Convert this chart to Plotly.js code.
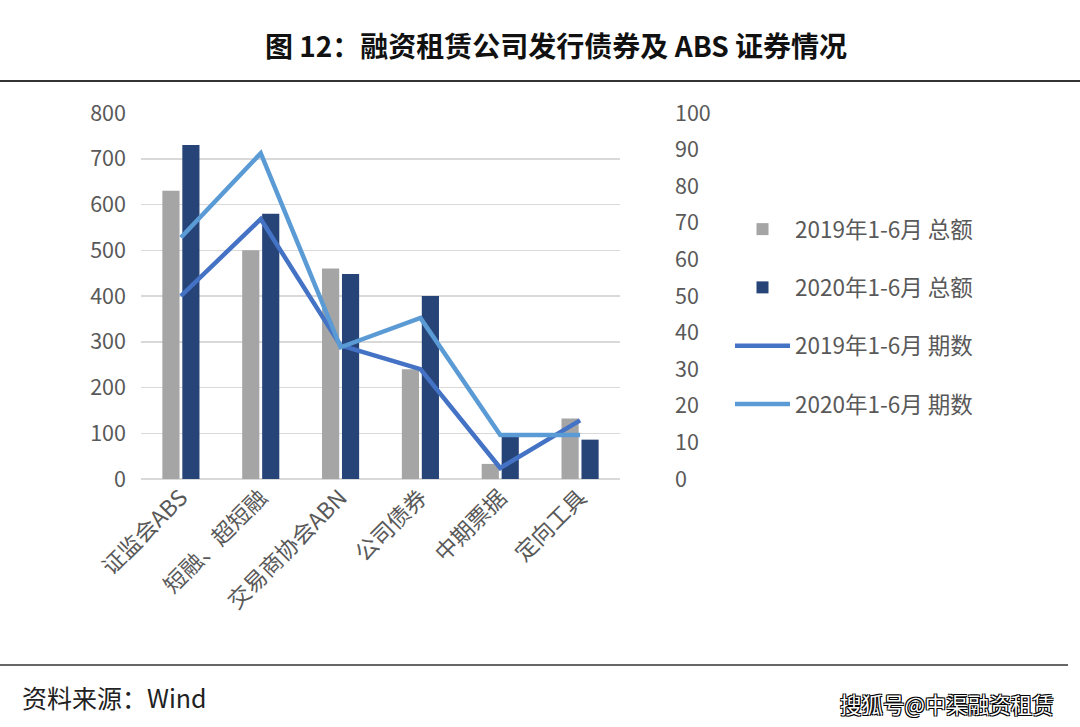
<!DOCTYPE html>
<html>
<head>
<meta charset="utf-8">
<script src="https://cdn.plot.ly/plotly-3.0.1.min.js"></script>
<style>html,body{margin:0;padding:0;background:#fff;}#chart{width:1080px;height:727px;}</style>
</head>
<body>
<div id="chart"></div>
<script>
const categories = ["证监会ABS", "短融、超短融", "交易商协会ABN", "公司债券", "中期票据", "定向工具"];
const amount2019 = [630, 500, 460, 240, 33, 132];
const amount2020 = [730, 580, 448, 400, 100, 86];
const count2019 = [50, 71, 36.5, 30, 3, 16];
const count2020 = [66, 89, 36, 44, 12, 12];
const seriesNames = ["2019年1-6月 总额", "2020年1-6月 总额", "2019年1-6月 期数", "2020年1-6月 期数"];
const leftTicks = [0, 100, 200, 300, 400, 500, 600, 700, 800];
const rightTicks = [0, 10, 20, 30, 40, 50, 60, 70, 80, 90, 100];

const FONT = "Noto Sans CJK SC, Noto Sans, sans-serif";
const GREY = "#595959";

const traces = [
  {type: "bar", x: categories, y: amount2019, name: seriesNames[0], marker: {color: "#A5A5A5"}, legendgroup: "a", hoverinfo: "skip"},
  {type: "bar", x: categories, y: amount2020, name: seriesNames[1], marker: {color: "#264478"}, legendgroup: "b", hoverinfo: "skip"},
  {type: "scatter", mode: "lines", x: categories, y: count2019, name: seriesNames[2], yaxis: "y2", line: {color: "#4472C4", width: 4.5}, legendgroup: "c"},
  {type: "scatter", mode: "lines", x: categories, y: count2020, name: seriesNames[3], yaxis: "y2", line: {color: "#5B9BD5", width: 4.5}, legendgroup: "d"}
];

const layout = {
  width: 1080, height: 727,
  margin: {l: 141, r: 460, t: 113, b: 248},
  paper_bgcolor: "#fff", plot_bgcolor: "#fff",
  font: {family: FONT, color: GREY, size: 20},
  title: {text: "<b>图 12：融资租赁公司发行债券及 ABS 证券情况</b>", x: 556/1080, xref: "container", y: 1 - 47/727, yref: "container", yanchor: "middle", font: {size: 28, color: "#111", family: FONT}},
  barmode: "group", bargap: 0.5, bargroupgap: 0.14,
  showlegend: true,
  legend: {xref: "container", yref: "container", x: 730/1080, y: 1 - 208/727, xanchor: "left", yanchor: "top",
           font: {size: 22.5, color: GREY, family: FONT}, tracegroupgap: 26, traceorder: "grouped", itemwidth: 55, bgcolor: "rgba(0,0,0,0)"},
  xaxis: {type: "category", tickangle: -45, showgrid: false, showline: false, ticks: "", zeroline: false,
          tickfont: {size: 22.5, color: GREY, family: FONT}, fixedrange: true},
  yaxis: {range: [0, 800], tickvals: leftTicks, showgrid: true, gridcolor: "#D9D9D9", gridwidth: 1.5, zeroline: true, zerolinecolor: "#D9D9D9", zerolinewidth: 1.5,
          showline: false, ticks: "", ticklabelstandoff: 14, tickfont: {size: 21.5, color: GREY}, fixedrange: true},
  yaxis2: {range: [0, 100], tickvals: rightTicks, overlaying: "y", side: "right", showgrid: false, zeroline: false, showline: false, ticks: "",
           ticklabelstandoff: 54, tickfont: {size: 21.5, color: GREY}, fixedrange: true},
  shapes: [
    {type: "line", xref: "paper", yref: "paper", x0: -141/479, x1: 939/479, y0: (479-81)/366, y1: (479-81)/366, line: {color: "#333", width: 2}},
    {type: "line", xref: "paper", yref: "paper", x0: -141/479, x1: (1068-141)/479, y0: (479-665)/366, y1: (479-665)/366, line: {color: "#333", width: 1.5}}
  ],
  annotations: [
    {text: "资料来源：Wind", xref: "paper", yref: "paper", x: (20-141)/479, y: (479-697)/366, xanchor: "left", yanchor: "middle", showarrow: false,
     font: {size: 25, color: "#222", family: FONT}},
    {text: "搜狐号@中渠融资租赁", xref: "paper", yref: "paper", x: (1056-141)/479, y: (479-703)/366, xanchor: "right", yanchor: "middle", showarrow: false,
     font: {size: 21.5, color: "#fff", family: FONT, shadow: "1px 1px 0 #000, -1px -1px 0 #000, 1px -1px 0 #000, -1px 1px 0 #000"}}
  ]
};

Plotly.newPlot("chart", traces, layout, {displayModeBar: false, staticPlot: true});
</script>
</body>
</html>
